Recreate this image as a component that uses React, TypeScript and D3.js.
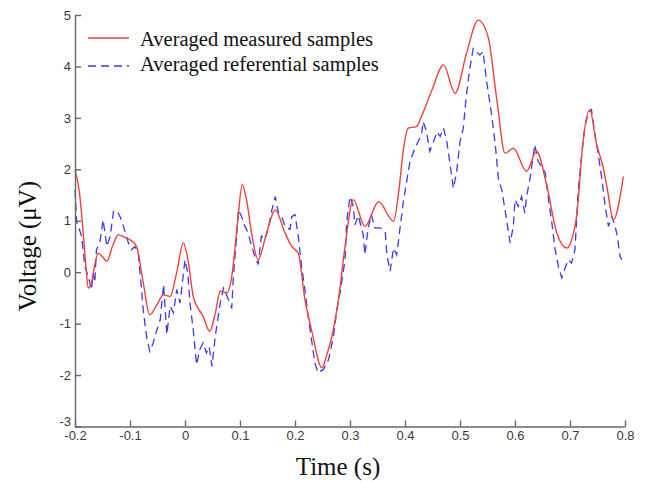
import * as d3 from "d3";
import { useRef, useEffect } from "react";

// averaged measured samples (red, smooth)
const measuredT = [
  -0.2, -0.192, -0.185, -0.18, -0.176, -0.17, -0.164, -0.158, -0.15, -0.142, -0.132, -0.121, -0.11, -0.1,
  -0.088, -0.076, -0.064, -0.052, -0.039, -0.027, -0.015, -0.003, 0.006, 0.015, 0.033, 0.045, 0.055, 0.064,
  0.076, 0.085, 0.095, 0.104, 0.112, 0.121, 0.133, 0.148, 0.164, 0.182, 0.194, 0.206, 0.218, 0.23, 0.249,
  0.258, 0.267, 0.279, 0.291, 0.306, 0.327, 0.352, 0.379, 0.389, 0.397, 0.406, 0.421, 0.43, 0.449, 0.47,
  0.491, 0.512, 0.533, 0.551, 0.567, 0.582, 0.597, 0.621, 0.639, 0.658, 0.676, 0.694, 0.705, 0.712, 0.724,
  0.736, 0.748, 0.76, 0.767, 0.779, 0.797,
];
const measuredV = [
  1.99, 1.55, 0.76, 0.1, -0.31, -0.2, 0.15, 0.37, 0.3, 0.21, 0.5, 0.73, 0.68, 0.63,
  0.5, -0.2, -0.83, -0.65, -0.44, -0.47, 0.0, 0.57, 0.2, -0.47, -0.86, -1.15, -0.8, -0.37,
  -0.4, -0.08, 0.9, 1.7, 1.4, 0.76, 0.24, 0.75, 1.21, 0.76, 0.5, 0.37, -0.53, -1.12, -1.86,
  -1.6, -1.25, -0.53, 0.5, 1.41, 0.89, 1.37, 0.99, 1.6, 2.38, 2.8, 2.83, 3.03, 3.54, 4.03,
  3.48, 4.26, 4.9, 4.58, 3.35, 2.31, 2.41, 1.96, 2.35, 1.67, 0.76, 0.47, 0.7, 1.08, 2.57,
  3.16, 2.5, 2.05, 1.67, 1.02, 1.86,
];

// averaged referential samples (blue, dashed, noisy)
const referentialT = [
  -0.2, -0.197, -0.188, -0.182, -0.176, -0.17, -0.167, -0.164, -0.161, -0.155, -0.149, -0.142, -0.136, -0.13,
  -0.124, -0.118, -0.112, -0.103, -0.097, -0.091, -0.085, -0.079, -0.076, -0.07, -0.064, -0.058, -0.051,
  -0.045, -0.039, -0.033, -0.027, -0.021, -0.015, -0.009, 0.0, 0.005, 0.009, 0.015, 0.021, 0.027, 0.033,
  0.039, 0.044, 0.049, 0.055, 0.064, 0.07, 0.079, 0.085, 0.088, 0.094, 0.097, 0.103, 0.109, 0.115, 0.121,
  0.127, 0.133, 0.139, 0.145, 0.151, 0.158, 0.164, 0.17, 0.176, 0.182, 0.191, 0.194, 0.2, 0.206, 0.212,
  0.218, 0.224, 0.23, 0.236, 0.242, 0.245, 0.251, 0.261, 0.27, 0.276, 0.282, 0.291, 0.294, 0.3, 0.306,
  0.309, 0.315, 0.324, 0.327, 0.333, 0.339, 0.345, 0.355, 0.364, 0.367, 0.373, 0.379, 0.385, 0.391, 0.397,
  0.403, 0.409, 0.418, 0.424, 0.43, 0.433, 0.439, 0.445, 0.452, 0.458, 0.464, 0.47, 0.476, 0.482, 0.488,
  0.494, 0.5, 0.506, 0.511, 0.518, 0.524, 0.53, 0.536, 0.542, 0.548, 0.557, 0.564, 0.57, 0.576, 0.585,
  0.591, 0.597, 0.6, 0.606, 0.612, 0.618, 0.621, 0.627, 0.633, 0.636, 0.642, 0.649, 0.655, 0.661, 0.667,
  0.673, 0.679, 0.685, 0.691, 0.697, 0.703, 0.709, 0.715, 0.721, 0.727, 0.733, 0.739, 0.745, 0.752, 0.758,
  0.764, 0.77, 0.776, 0.782, 0.786, 0.791, 0.794,
];
const referentialV = [
  1.6, 0.99, 0.7, 0.11, -0.08, -0.34, -0.02, -0.2, 0.44, 0.56, 1.02, 0.5, 0.7, 1.18,
  1.2, 1.08, 0.89, 0.57, 0.44, 0.5, 0.37, -0.34, -0.73, -1.25, -1.54, -1.38, -1.12,
  -0.92, -0.24, -1.21, -0.66, -0.79, -0.34, -0.6, 0.24, -0.02, -0.6, -1.12, -1.8, -1.5, -1.37,
  -1.57, -1.45, -1.83, -1.25, -0.6, -0.31, -0.53, -0.7, -0.08, 0.7, 1.21, 1.08, 0.89, 0.76, 0.5,
  0.31, 0.15, 0.7, 0.63, 0.83, 1.21, 1.47, 1.15, 1.08, 0.89, 0.83, 1.08, 1.12, 0.7, 0.11,
  -0.34, -0.86, -1.31, -1.76, -1.96, -1.93, -1.9, -1.7, -1.25, -0.73, -0.4, 0.24, 0.99, 1.47, 1.28,
  0.92, 1.1, 0.73, 0.34, 0.86, 1.12, 0.86, 0.86, 0.79, 0.34, 0.02, 0.47, 0.34, 0.86, 1.37,
  1.76, 2.15, 2.41, 2.54, 2.67, 2.93, 2.74, 2.35, 2.54, 2.73, 2.64, 2.8, 2.54, 2.09, 1.63,
  1.96, 2.54, 2.8, 3.38, 3.97, 4.35, 4.29, 4.22, 4.29, 3.74, 3.1, 2.5, 1.8, 1.6, 1.0,
  0.57, 0.89, 1.41, 1.28, 1.47, 1.15, 1.47, 1.8, 2.25, 2.48, 2.15, 2.05, 1.93, 1.41, 0.96,
  0.44, 0.11, -0.11, 0.08, 0.24, 0.18, 0.44, 1.6, 2.25, 2.83, 3.09, 3.16, 2.7, 2.25, 1.8,
  1.28, 0.89, 1.08, 0.89, 0.7, 0.31, 0.24,
];

const xTicks = [-0.2, -0.1, 0, 0.1, 0.2, 0.3, 0.4, 0.5, 0.6, 0.7, 0.8];
const yTicks = [-3, -2, -1, 0, 1, 2, 3, 4, 5];
const legendLabels = ["Averaged measured samples", "Averaged referential samples"];

const RED = "#f2403c";
const BLUE = "#3a3af0";
const SERIF = "'Liberation Serif', 'Times New Roman', serif";

export default function App() {
  const ref = useRef<SVGSVGElement>(null);

  useEffect(() => {
    const width = 648;
    const height = 482;
    const svg = d3.select(ref.current).attr("width", width).attr("height", height);
    svg.selectAll("*").remove();

    const x = d3.scaleLinear().domain([-0.2, 0.8]).range([75, 625]);
    const y = d3.scaleLinear().domain([-3, 5]).range([426.5, 15]);

    const line = d3.line<[number, number]>()
      .x(d => x(d[0]))
      .y(d => y(d[1]));

    // referential first, measured on top
    svg.append("path")
      .datum(referentialT.map((t, i) => [t, referentialV[i]] as [number, number]))
      .attr("fill", "none")
      .attr("stroke", BLUE)
      .attr("stroke-width", 1.3)
      .attr("stroke-dasharray", "8,5")
      .attr("d", line.curve(d3.curveLinear));

    svg.append("path")
      .datum(measuredT.map((t, i) => [t, measuredV[i]] as [number, number]))
      .attr("fill", "none")
      .attr("stroke", RED)
      .attr("stroke-width", 1.4)
      .attr("d", line.curve(d3.curveMonotoneX));

    // matlab style labels use a plain hyphen for minus
    const fmt = (d: d3.NumberValue) => String(+d);

    // axes (ticks pointing inwards, no box)
    const xAxis = svg.append("g")
      .attr("transform", `translate(0,${y(-3)})`)
      .call(d3.axisBottom(x).tickValues(xTicks).tickSizeInner(-6).tickSizeOuter(0).tickPadding(4).tickFormat(fmt));
    const yAxis = svg.append("g")
      .attr("transform", `translate(${x(-0.2)},0)`)
      .call(d3.axisLeft(y).tickValues(yTicks).tickSizeInner(-6).tickSizeOuter(0).tickPadding(4).tickFormat(fmt));

    [xAxis, yAxis].forEach(g => {
      g.selectAll("path, line").attr("stroke", "#666").attr("stroke-width", 1.4);
      g.selectAll("text")
        .attr("fill", "#3a3a3a")
        .attr("font-family", "'Liberation Sans', Arial, sans-serif")
        .attr("font-size", 13);
    });
    // the -3 label sits a bit above the axis line in the original
    yAxis.selectAll<SVGTextElement, number>("text").filter(d => d === -3).attr("dy", "-0.08em");

    // axis titles
    svg.append("text")
      .attr("x", 338)
      .attr("y", 475)
      .attr("text-anchor", "middle")
      .attr("font-family", SERIF)
      .attr("font-size", 25)
      .attr("fill", "#111")
      .text("Time (s)");

    svg.append("text")
      .attr("transform", "translate(36,246) rotate(-90)")
      .attr("text-anchor", "middle")
      .attr("font-family", SERIF)
      .attr("font-size", 25)
      .attr("fill", "#111")
      .text("Voltage (\u03bcV)");

    // legend
    const legend = svg.append("g");
    const legendStyles = [
      { color: RED, dash: null, lineY: 38, textY: 46 },
      { color: BLUE, dash: "8,5", lineY: 66, textY: 71 },
    ];
    legendStyles.forEach((s, i) => {
      legend.append("line")
        .attr("x1", 88).attr("x2", 129)
        .attr("y1", s.lineY).attr("y2", s.lineY)
        .attr("stroke", s.color)
        .attr("stroke-width", 1.4)
        .attr("stroke-dasharray", s.dash);
      legend.append("text")
        .attr("x", 140)
        .attr("y", s.textY)
        .attr("font-family", SERIF)
        .attr("font-size", 20.5)
        .attr("fill", "#111")
        .text(legendLabels[i]);
    });
  }, []);

  return (
    <svg ref={ref} style={{ position: "absolute", left: 0, top: 0, background: "#fff" }}></svg>
  );
}
